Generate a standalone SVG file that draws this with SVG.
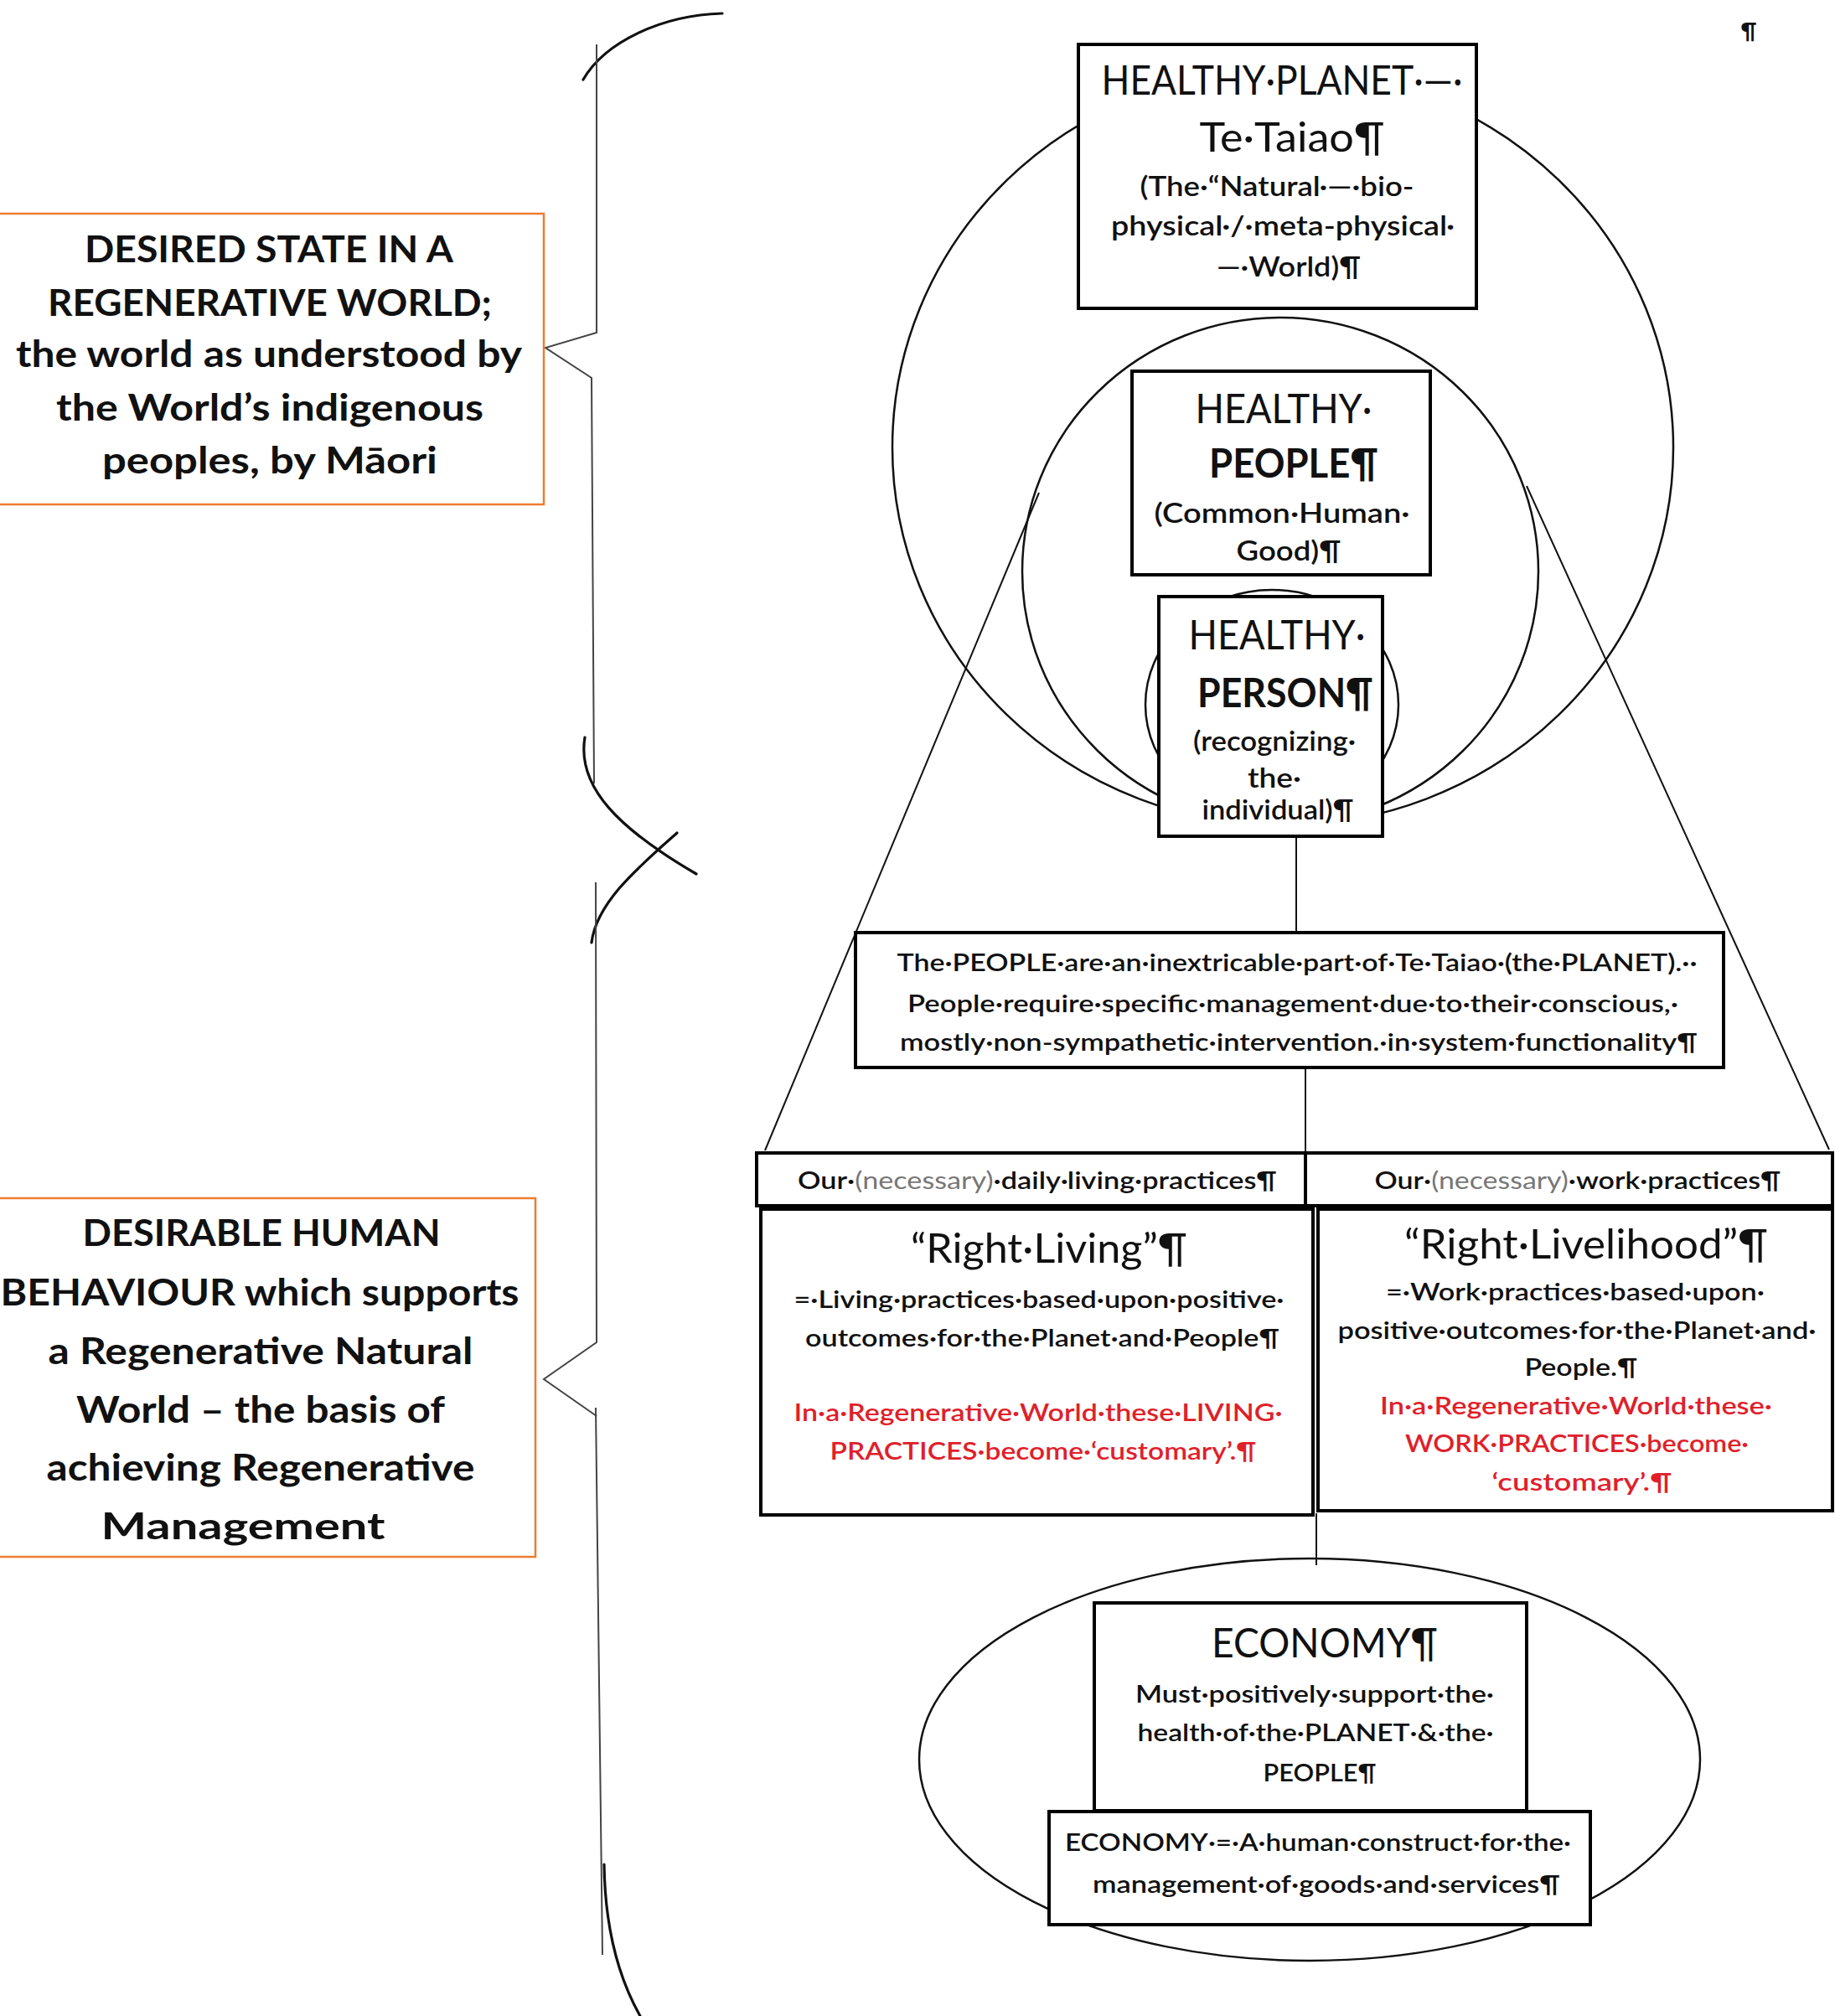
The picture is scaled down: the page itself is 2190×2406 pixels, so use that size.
<svg xmlns="http://www.w3.org/2000/svg" width="2190" height="2406" viewBox="0 0 2190 2406">
<style>
.box{fill:#fff;stroke:#000;stroke-width:4}
.ring{fill:none;stroke:#111;stroke-width:2.5}
.ln{fill:none;stroke:#111;stroke-width:2}
.br{fill:none;stroke:#444;stroke-width:2}
.arc{fill:none;stroke:#111;stroke-width:3.2;stroke-linecap:round}
.note{fill:#fff;stroke:#ED7D31;stroke-width:2.5}
text{font-family:Lato,"Liberation Sans",sans-serif;text-anchor:middle;fill:#111}
.lbl{font-size:44px;font-weight:bold}
.hd{font-size:48px;font-weight:normal}
.hb{font-size:48px;font-weight:bold}
.sub{font-size:33px;font-weight:600}
.body{font-size:29px;font-weight:600}
.red{fill:#E0202A}
.gr{fill:#777;font-weight:normal}
</style>
<rect width="2190" height="2406" fill="#fff"/>

<g id="rings">
<ellipse class="ring" cx="1531" cy="534" rx="466" ry="451"/>
<ellipse class="ring" cx="1528" cy="682" rx="308" ry="303"/>
<ellipse class="ring" cx="1518" cy="841" rx="151" ry="137"/>
<ellipse class="ring" cx="1563" cy="2100" rx="466" ry="240"/>
</g>

<g id="connectors">
<line class="ln" x1="913" y1="1373" x2="1240" y2="588"/>
<line class="ln" x1="2183" y1="1372" x2="1822" y2="580"/>
<line class="ln" x1="1547" y1="999" x2="1547" y2="1113"/>
<line class="ln" x1="1558" y1="1274" x2="1558" y2="1377"/>
<line class="ln" x1="1571" y1="1806" x2="1571" y2="1868"/>
</g>

<g id="braces">
<path class="arc" d="M862 16 C790 18 722 50 696 95"/>
<path class="br" d="M712 53 L712 397 L651 415 L706 451 L709 935"/>
<path class="arc" d="M698 880 C688 940 740 990 831 1043"/>
<path class="arc" d="M808 994 C768 1030 712 1075 706 1125"/>
<path class="br" d="M711 1053 L712 1602 L649 1646 L712 1690"/>
<path class="br" d="M711 1680 L719 2333"/>
<path class="arc" d="M721 2225 C722 2300 738 2360 764 2406"/>
</g>

<g id="planet">
<rect class="box" x="1287" y="53" width="475" height="315"/>
<text class="hd" x="1530" y="113" textLength="431" lengthAdjust="spacingAndGlyphs">HEALTHY·PLANET·—·</text>
<text class="hd" x="1542" y="181" textLength="221" lengthAdjust="spacingAndGlyphs">Te·Taiao¶</text>
<text class="sub" x="1524" y="234" textLength="327" lengthAdjust="spacingAndGlyphs">(The·“Natural·—·bio-</text>
<text class="sub" x="1531" y="281" textLength="410" lengthAdjust="spacingAndGlyphs">physical·/·meta-physical·</text>
<text class="sub" x="1538" y="330" textLength="172" lengthAdjust="spacingAndGlyphs">—·World)¶</text>
</g>

<g id="people">
<rect class="box" x="1351" y="443" width="356" height="243"/>
<text class="hd" x="1532" y="505" textLength="211" lengthAdjust="spacingAndGlyphs">HEALTHY·</text>
<text class="hb" x="1544" y="570" textLength="202" lengthAdjust="spacingAndGlyphs">PEOPLE¶</text>
<text class="sub" x="1530" y="624" textLength="305" lengthAdjust="spacingAndGlyphs">(Common·Human·</text>
<text class="sub" x="1538" y="669" textLength="125" lengthAdjust="spacingAndGlyphs">Good)¶</text>
</g>

<g id="person">
<rect class="box" x="1383" y="712" width="267" height="286"/>
<text class="hd" x="1524" y="775" textLength="211" lengthAdjust="spacingAndGlyphs">HEALTHY·</text>
<text class="hb" x="1534" y="844" textLength="210" lengthAdjust="spacingAndGlyphs">PERSON¶</text>
<text class="sub" x="1521" y="896" textLength="194" lengthAdjust="spacingAndGlyphs">(recognizing·</text>
<text class="sub" x="1521" y="940" textLength="64" lengthAdjust="spacingAndGlyphs">the·</text>
<text class="sub" x="1525" y="978" textLength="181" lengthAdjust="spacingAndGlyphs">individual)¶</text>
</g>

<g id="statement">
<rect class="box" x="1021" y="1113" width="1036" height="161"/>
<text class="body" x="1548" y="1159" textLength="955" lengthAdjust="spacingAndGlyphs">The·PEOPLE·are·an·inextricable·part·of·Te·Taiao·(the·PLANET).··</text>
<text class="body" x="1543" y="1208" textLength="920" lengthAdjust="spacingAndGlyphs">People·require·specific·management·due·to·their·conscious,·</text>
<text class="body" x="1550" y="1254" textLength="952" lengthAdjust="spacingAndGlyphs">mostly·non-sympathetic·intervention.·in·system·functionality¶</text>
</g>

<g id="daily-practices">
<rect class="box" x="903" y="1376" width="655" height="63"/>
<text class="body" x="1238" y="1419" textLength="572" lengthAdjust="spacingAndGlyphs">Our·<tspan class="gr">(necessary)</tspan>·daily·living·practices¶</text>
</g>

<g id="work-practices">
<rect class="box" x="1558" y="1376" width="629" height="63"/>
<text class="body" x="1883" y="1419" textLength="485" lengthAdjust="spacingAndGlyphs">Our·<tspan class="gr">(necessary)</tspan>·work·practices¶</text>
</g>

<g id="right-living">
<rect class="box" x="908" y="1443" width="659" height="365"/>
<text class="hd" x="1252" y="1507" textLength="330" lengthAdjust="spacingAndGlyphs" font-size="50">“Right·Living”¶</text>
<text class="body" x="1240" y="1561" textLength="585" lengthAdjust="spacingAndGlyphs">=·Living·practices·based·upon·positive·</text>
<text class="body" x="1244" y="1607" textLength="566" lengthAdjust="spacingAndGlyphs">outcomes·for·the·Planet·and·People¶</text>
<text class="body red" x="1239" y="1696" textLength="583" lengthAdjust="spacingAndGlyphs">In·a·Regenerative·World·these·LIVING·</text>
<text class="body red" x="1245" y="1742" textLength="509" lengthAdjust="spacingAndGlyphs">PRACTICES·become·‘customary’.¶</text>
</g>

<g id="right-livelihood">
<rect class="box" x="1573" y="1443" width="614" height="360"/>
<text class="hd" x="1893" y="1502" textLength="434" lengthAdjust="spacingAndGlyphs" font-size="50">“Right·Livelihood”¶</text>
<text class="body" x="1880" y="1552" textLength="452" lengthAdjust="spacingAndGlyphs">=·Work·practices·based·upon·</text>
<text class="body" x="1882" y="1598" textLength="571" lengthAdjust="spacingAndGlyphs">positive·outcomes·for·the·Planet·and·</text>
<text class="body" x="1887" y="1642" textLength="135" lengthAdjust="spacingAndGlyphs">People.¶</text>
<text class="body red" x="1881" y="1688" textLength="468" lengthAdjust="spacingAndGlyphs">In·a·Regenerative·World·these·</text>
<text class="body red" x="1882" y="1733" textLength="410" lengthAdjust="spacingAndGlyphs">WORK·PRACTICES·become·</text>
<text class="body red" x="1888" y="1779" textLength="215" lengthAdjust="spacingAndGlyphs">‘customary’.¶</text>
</g>

<g id="economy">
<rect class="box" x="1306" y="1913" width="516" height="248"/>
<text class="hd" x="1581" y="1978" textLength="270" lengthAdjust="spacingAndGlyphs">ECONOMY¶</text>
<text class="body" x="1569" y="2032" textLength="428" lengthAdjust="spacingAndGlyphs">Must·positively·support·the·</text>
<text class="body" x="1570" y="2078" textLength="425" lengthAdjust="spacingAndGlyphs">health·of·the·PLANET·&amp;·the·</text>
<text class="body" x="1575" y="2126" textLength="135" lengthAdjust="spacingAndGlyphs">PEOPLE¶</text>
</g>

<g id="economy-definition">
<rect class="box" x="1252" y="2162" width="646" height="135"/>
<text class="body" x="1573" y="2209" textLength="604" lengthAdjust="spacingAndGlyphs">ECONOMY·=·A·human·construct·for·the·</text>
<text class="body" x="1583" y="2259" textLength="558" lengthAdjust="spacingAndGlyphs">management·of·goods·and·services¶</text>
</g>

<g id="desired-state">
<rect class="note" x="-2" y="255" width="651" height="347"/>
<text class="lbl" x="321" y="313" textLength="440" lengthAdjust="spacingAndGlyphs">DESIRED STATE IN A</text>
<text class="lbl" x="322" y="377" textLength="530" lengthAdjust="spacingAndGlyphs">REGENERATIVE WORLD;</text>
<text class="lbl" x="321" y="438" textLength="604" lengthAdjust="spacingAndGlyphs">the world as understood by</text>
<text class="lbl" x="322" y="502" textLength="510" lengthAdjust="spacingAndGlyphs">the World’s indigenous</text>
<text class="lbl" x="322" y="565" textLength="400" lengthAdjust="spacingAndGlyphs">peoples, by Māori</text>
</g>

<g id="desirable-behaviour">
<rect class="note" x="-2" y="1430" width="641" height="428"/>
<text class="lbl" x="312" y="1487" textLength="427" lengthAdjust="spacingAndGlyphs">DESIRABLE HUMAN</text>
<text class="lbl" x="310" y="1558" textLength="619" lengthAdjust="spacingAndGlyphs">BEHAVIOUR which supports</text>
<text class="lbl" x="311" y="1628" textLength="507" lengthAdjust="spacingAndGlyphs">a Regenerative Natural</text>
<text class="lbl" x="311" y="1698" textLength="440" lengthAdjust="spacingAndGlyphs">World – the basis of</text>
<text class="lbl" x="311" y="1767" textLength="511" lengthAdjust="spacingAndGlyphs">achieving Regenerative</text>
<text class="lbl" x="290" y="1837" textLength="339" lengthAdjust="spacingAndGlyphs">Management</text>
</g>

<text x="2087" y="46" font-size="26" font-weight="bold">¶</text>
</svg>
